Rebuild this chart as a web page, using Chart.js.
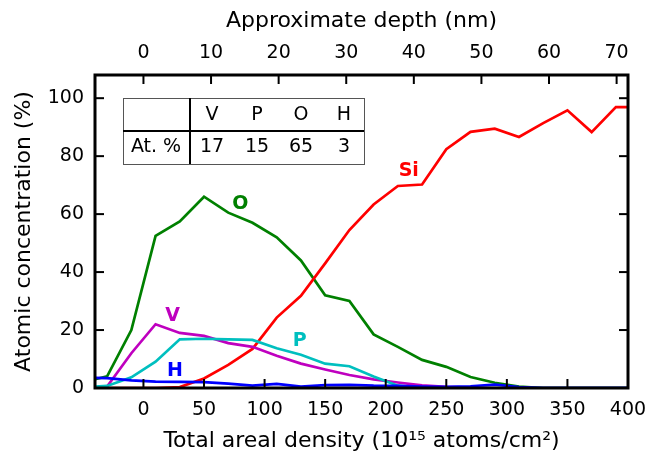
<html>
<head>
<script src="https://cdn.jsdelivr.net/npm/chart.js@4"></script>
<style>
  body { margin: 0; background: #fff; }
</style>
</head>
<body>
<canvas id="myChart" width="649" height="457"></canvas>
<script>
// total areal density (1e15 atoms/cm2) of each depth point
var density = [-40, -30, -10, 10, 30, 50, 70, 90, 110, 130, 150, 170, 190, 210, 230, 250, 270, 290, 310, 330, 350, 370, 390, 400];
// atomic concentrations (%)
var oxygen   = [3, 4, 20, 52.5, 57.5, 66, 60.5, 57, 52, 44, 32, 30, 18.5, 14.2, 9.7, 7.3, 3.8, 1.8, 0.5, 0, 0, 0, 0, 0];
var silicon  = [0, 0, 0, 0, 0.3, 3.3, 8, 13.5, 24.3, 31.8, 43, 54.5, 63.3, 69.7, 70.2, 82.4, 88.4, 89.5, 86.6, 91.4, 95.8, 88.3, 96.9, 96.9];
var vanadium = [0, 0.5, 12, 22, 19, 18, 15.5, 14.2, 11.1, 8.4, 6.4, 4.5, 3.0, 1.9, 0.9, 0.4, 0.1, 0, 0, 0, 0, 0, 0, 0];
var phosphor = [0.5, 0.7, 3.7, 9.1, 16.8, 17, 16.8, 16.6, 13.7, 11.5, 8.4, 7.5, 4.0, 0.8, 0, 0, 0, 0, 0, 0, 0, 0, 0, 0];
var hydrogen = [3.5, 3.4, 2.6, 2.2, 2.1, 2.0, 1.5, 0.8, 1.4, 0.5, 1.0, 1.1, 0.8, 0.7, 0.5, 0.4, 0.6, 1.2, 0.3, 0, 0, 0, 0, 0];

// element tags placed on the curves (data coordinates)
var tagNames = ['O', 'Si', 'V', 'P', 'H'];
var tagX = [80, 219, 24, 129, 26];
var tagY = [63.5, 74.8, 24.9, 16.3, 6.0];

// inset table
var tableHeads = ['V', 'P', 'O', 'H'];
var tableValues = [17, 15, 65, 3];

var nmFactor = 5.58;   // areal density units per nm
var xMin = -40, xMax = 400;

var colors = {O: '#008000', Si: '#ff0000', V: '#bf00bf', P: '#00bfbf', H: '#0000ff'};
var FONT = 'DejaVu Sans';

function pts(arr) {
    return density.map(function (x, i) { return {x: x, y: arr[i]}; });
}
// later series are drawn on top (lower order = drawn last)
function line(label, arr, order) {
    return {label: label, data: pts(arr), borderColor: colors[label], borderWidth: 2.7,
            pointRadius: 0, tension: 0, fill: false, order: order};
}
// ticks only at round multiples of the step, inside the range
function roundTicks(step) {
    return function (s) {
        var out = [];
        for (var v = Math.ceil(s.min / step) * step; v <= s.max + 1e-9; v += step) {
            out.push({value: v});
        }
        s.ticks = out;
    };
}
function noPad(s) {
    s.paddingLeft = 0; s.paddingRight = 0; s.paddingTop = 0; s.paddingBottom = 0;
}

var framePlugin = {
    id: 'frame',
    afterDatasetsDraw: function (chart) {
        var c = chart.ctx, a = chart.chartArea;
        var sx = chart.scales.x, sx2 = chart.scales.x2, sy = chart.scales.y;
        c.save();
        c.strokeStyle = '#000';
        // inward ticks
        c.lineWidth = 2;
        var tl = 9;
        sx.ticks.forEach(function (t) {
            var p = sx.getPixelForValue(t.value);
            c.beginPath(); c.moveTo(p, a.bottom); c.lineTo(p, a.bottom - tl); c.stroke();
        });
        sx2.ticks.forEach(function (t) {
            var p = sx2.getPixelForValue(t.value);
            c.beginPath(); c.moveTo(p, a.top); c.lineTo(p, a.top + tl); c.stroke();
        });
        sy.ticks.forEach(function (t) {
            var p = sy.getPixelForValue(t.value);
            c.beginPath(); c.moveTo(a.left, p); c.lineTo(a.left + tl, p); c.stroke();
            c.beginPath(); c.moveTo(a.right, p); c.lineTo(a.right - tl, p); c.stroke();
        });
        c.lineWidth = 3;
        c.strokeRect(a.left, a.top, a.right - a.left, a.bottom - a.top);

        // curve tags
        c.font = 'bold 19px ' + FONT;
        c.textAlign = 'center';
        c.textBaseline = 'middle';
        tagNames.forEach(function (n, i) {
            c.fillStyle = colors[n];
            c.fillText(n, sx.getPixelForValue(tagX[i]), sy.getPixelForValue(tagY[i]));
        });

        // inset table
        var L = a.left + 28, T = a.top + 23, W = 241, H = 66;
        c.lineWidth = 1;
        c.strokeStyle = '#555';
        c.strokeRect(L + 0.5, T + 0.5, W, H);
        c.strokeStyle = '#000';
        c.lineWidth = 2;
        c.beginPath(); c.moveTo(L, T + 33); c.lineTo(L + W, T + 33); c.stroke();
        c.beginPath(); c.moveTo(L + 67, T); c.lineTo(L + 67, T + H); c.stroke();
        c.font = '19px ' + FONT;
        c.fillStyle = '#000';
        c.fillText('At. %', L + 33, T + 49);
        var cx = [89, 134, 178, 221];
        tableHeads.forEach(function (h, i) {
            c.fillText(h, L + cx[i], T + 17);
            c.fillText(String(tableValues[i]), L + cx[i], T + 49);
        });
        c.restore();
    }
};

var tickFont = {family: FONT, size: 19};
var titleFont = {family: FONT, size: 22};

var ctx = document.getElementById('myChart').getContext('2d');
var chart = new Chart(ctx, {
    type: 'line',
    data: {
        datasets: [
            line('O', oxygen, 5),
            line('Si', silicon, 4),
            line('V', vanadium, 3),
            line('P', phosphor, 2),
            line('H', hydrogen, 1)
        ]
    },
    options: {
        responsive: false,
        animation: false,
        layout: {padding: {right: 21}},
        plugins: {legend: {display: false}, tooltip: {enabled: false}},
        scales: {
            x: {
                type: 'linear', position: 'bottom', min: xMin, max: xMax,
                grid: {display: false, drawTicks: false}, border: {display: false},
                ticks: {stepSize: 50, font: tickFont, color: '#000', padding: 11, maxRotation: 0, autoSkip: false},
                title: {display: true, text: 'Total areal density (10\u00b9\u2075 atoms/cm\u00b2)',
                        font: titleFont, color: '#000', padding: {top: 0, bottom: 3}},
                afterBuildTicks: roundTicks(50),
                afterFit: function (s) { s.height = 69; noPad(s); }
            },
            x2: {
                type: 'linear', position: 'top', min: xMin / nmFactor, max: xMax / nmFactor,
                grid: {display: false, drawTicks: false}, border: {display: false},
                ticks: {stepSize: 10, font: tickFont, color: '#000', padding: 11, maxRotation: 0, autoSkip: false},
                title: {display: true, text: 'Approximate depth (nm)',
                        font: titleFont, color: '#000', padding: {top: 8, bottom: 0}},
                afterBuildTicks: roundTicks(10),
                afterFit: function (s) { s.height = 75; noPad(s); }
            },
            y: {
                min: 0, max: 108,
                grid: {display: false, drawTicks: false}, border: {display: false},
                ticks: {stepSize: 20, font: tickFont, color: '#000', padding: 11},
                title: {display: true, text: 'Atomic concentration (%)',
                        font: titleFont, color: '#000', padding: {top: 11, bottom: 0}},
                afterBuildTicks: roundTicks(20),
                afterFit: function (s) { s.width = 95; noPad(s); }
            }
        }
    },
    plugins: [framePlugin]
});
</script>
</body>
</html>
